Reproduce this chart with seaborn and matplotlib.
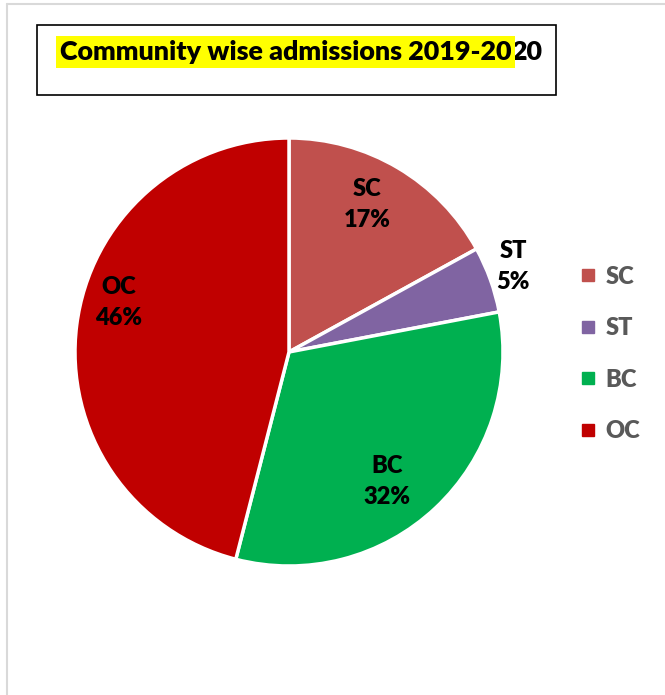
import matplotlib
matplotlib.use("Agg")
import matplotlib.pyplot as plt
import seaborn as sns
import numpy as np
from matplotlib.lines import Line2D
from matplotlib.patches import Rectangle

categories = ["SC", "ST", "BC", "OC"]
percentages = [17, 5, 32, 46]
colors = ["#C0504D", "#8064A2", "#00B050", "#C00000"]
title_main = "Community wise admissions 2019-20"
title_tail = "20"

# label placement style (distance from centre, angle tweak in degrees)
label_dist = [0.78, 1.12, 0.76, 0.83]
label_shift = [-2.6, -1.0, 6.0, 9.0]

sns.set_theme(style="white")
plt.rcParams["font.family"] = ["Lato", "DejaVu Sans"]
FW = "heavy"

W, H = 665, 695
fig = plt.figure(figsize=(W / 100, H / 100), dpi=100)
fig.patch.set_facecolor("white")

# outer chart frame (left and top visible)
fig.add_artist(Line2D([7 / W, 7 / W], [0, 1 - 4 / H], color="#D9D9D9", lw=1.5,
                      transform=fig.transFigure))
fig.add_artist(Line2D([7 / W, 1], [1 - 4 / H, 1 - 4 / H], color="#D9D9D9", lw=1.5,
                      transform=fig.transFigure))

cx, cy, r = 289, 352, 214
ax = fig.add_axes([(cx - r) / W, (H - cy - r) / H, 2 * r / W, 2 * r / H])
wedges, _ = ax.pie(percentages, colors=colors, startangle=90, counterclock=False,
                   wedgeprops=dict(edgecolor="white", linewidth=2.5), radius=1)
ax.set_xlim(-1, 1)
ax.set_ylim(-1, 1)
ax.set_aspect("equal")
ax.axis("off")

for w, cat, pct, d, s in zip(wedges, categories, percentages, label_dist, label_shift):
    mid = np.deg2rad((w.theta1 + w.theta2) / 2 - s)
    ax.text(d * np.cos(mid), d * np.sin(mid), f"{cat}\n{pct}%", ha="center", va="center",
            fontsize=17, fontweight=FW, color="black", linespacing=1.5)

# title box
fig.add_artist(Rectangle((37 / W, 1 - 95 / H), (556 - 37) / W, (95 - 25) / H,
                         transform=fig.transFigure, fill=False, edgecolor="black", lw=1.2))
t1 = fig.text(60 / W, 1 - 52 / H, title_main, fontsize=19.4, fontweight=FW,
              ha="left", va="center", color="black",
              bbox=dict(facecolor="#FFFF00", edgecolor="none", pad=2.5))
fig.canvas.draw()
ax.annotate(title_tail, xy=(1, 0), xycoords=t1, ha="left", va="bottom",
            fontsize=19.4, fontweight=FW, color="black", annotation_clip=False)

# legend
handles = [Line2D([], [], marker="s", linestyle="none", markersize=8,
                  markerfacecolor=c, markeredgecolor=c) for c in colors]
leg = fig.legend(handles, categories, loc="center left",
                 bbox_to_anchor=(557 / W, 1 - 354 / H), frameon=False,
                 handlelength=0.8, handletextpad=0.35, labelspacing=1.25,
                 prop=dict(size=17, weight=FW))
for t in leg.get_texts():
    t.set_color("#595959")

fig.savefig("out.png", dpi=100, facecolor="white")
